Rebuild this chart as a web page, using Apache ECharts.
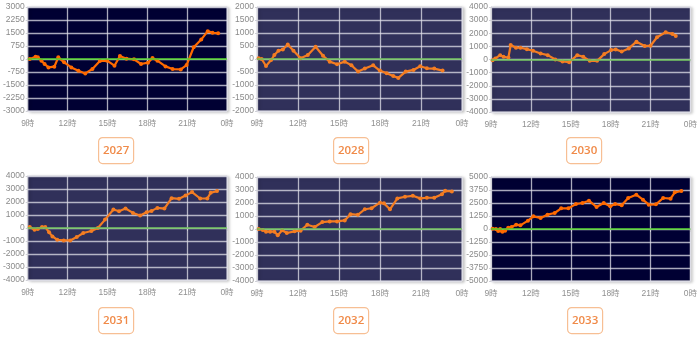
<!DOCTYPE html>
<html><head><meta charset="utf-8">
<script src="https://cdn.jsdelivr.net/npm/echarts@6/dist/echarts.min.js"></script>
<style>html,body{margin:0;padding:0;background:#fff}#c{width:700px;height:339px}</style>
</head><body><div id="c"></div>
<script>
// x tick labels (hours)
var xTicks = [9, 12, 15, 18, 21, 24];
var years = ['2027', '2028', '2030', '2031', '2032', '2033'];

// time (hour of day) and value for each year
var h2027 = [9.15, 9.59, 9.76, 10.03, 10.27, 10.56, 11.0, 11.30, 11.74, 12.28, 12.81, 13.33, 13.87, 14.43, 14.97, 15.53, 15.94, 16.43, 17.0, 17.53, 18.05, 18.39, 18.76, 19.37, 19.90, 20.52, 20.96, 21.49, 22.06, 22.55, 22.91, 23.33];
var v2027 = [0, 135, 97, -97, -290, -484, -445, 97, -193, -484, -677, -832, -580, -116, -97, -387, 174, 19, -19, -290, -213, 58, -97, -426, -580, -600, -348, 677, 1122, 1606, 1509, 1490];

var h2028 = [9.12, 9.34, 9.66, 10.03, 10.27, 10.57, 10.89, 11.25, 11.67, 12.19, 12.72, 13.29, 13.83, 14.32, 14.86, 15.42, 15.91, 16.40, 16.89, 17.50, 17.99, 18.49, 18.97, 19.34, 19.88, 20.45, 20.94, 21.43, 21.97, 22.58];
var v2028 = [25, 0, -268, -38, 153, 318, 369, 560, 318, 25, 153, 471, 127, -102, -204, -102, -242, -484, -369, -242, -446, -548, -650, -726, -484, -420, -280, -357, -369, -446];

var h2030 = [9.12, 9.32, 9.69, 9.94, 10.31, 10.48, 10.88, 11.22, 11.70, 12.16, 12.73, 13.27, 13.84, 14.38, 14.88, 15.49, 15.94, 16.43, 16.98, 17.52, 18.04, 18.38, 18.83, 19.37, 19.94, 20.56, 21.0, 21.49, 22.14, 22.65, 22.90];
var v2030 = [-51, 77, 333, 205, 154, 1102, 897, 897, 790, 666, 461, 333, 0, -154, -205, 333, 205, -102, -102, 410, 718, 769, 615, 846, 1358, 1025, 1051, 1692, 2076, 1948, 1794];

var h2031 = [9.15, 9.51, 9.76, 10.08, 10.32, 10.61, 10.86, 11.22, 11.71, 12.20, 12.69, 13.18, 13.79, 14.28, 14.82, 15.45, 15.87, 16.36, 16.92, 17.46, 17.95, 18.32, 18.76, 19.29, 19.83, 20.39, 20.88, 21.37, 21.98, 22.52, 22.77, 23.25];
var v2031 = [77, -129, -77, 77, 77, -335, -645, -903, -955, -955, -697, -387, -232, 0, 645, 1419, 1290, 1496, 1161, 955, 1213, 1316, 1548, 1496, 2296, 2245, 2503, 2761, 2270, 2270, 2709, 2838];

var h2032 = [9.12, 9.42, 9.66, 9.96, 10.27, 10.52, 10.84, 11.18, 11.75, 12.19, 12.68, 13.22, 13.78, 14.32, 14.86, 15.42, 15.84, 16.38, 16.89, 17.38, 18.0, 18.29, 18.73, 19.27, 19.83, 20.40, 20.94, 21.43, 21.97, 22.53, 22.77, 23.26];
var v2032 = [0, -76, -202, -202, -202, -481, -101, -304, -177, -127, 329, 152, 531, 582, 582, 658, 1139, 1088, 1518, 1594, 2024, 1973, 1518, 2353, 2479, 2555, 2353, 2404, 2404, 2682, 2935, 2884];

var h2033 = [9.12, 9.37, 9.54, 9.69, 9.86, 10.06, 10.30, 10.55, 10.89, 11.21, 11.78, 12.19, 12.73, 13.25, 13.79, 14.28, 14.82, 15.39, 15.88, 16.37, 16.94, 17.48, 17.97, 18.34, 18.83, 19.32, 19.93, 20.43, 20.87, 21.41, 21.95, 22.51, 22.83, 23.32];
var v2033 = [32, 0, -192, 0, -256, -160, 128, 192, 417, 353, 801, 1218, 1058, 1378, 1538, 1987, 1987, 2404, 2500, 2724, 2115, 2500, 2179, 2404, 2276, 2981, 3301, 2820, 2340, 2372, 2981, 2917, 3526, 3654];

var yMax = [3000, 2000, 4000, 4000, 4000, 5000];
var yStep = [750, 500, 1000, 1000, 1000, 1250];

var hours = [h2027, h2028, h2030, h2031, h2032, h2033];
var vals = [v2027, v2028, v2030, v2031, v2032, v2033];

// layout
var gl = [22, 257, 491, 22, 257, 491];
var gt = [7, 7, 7, 176, 177, 177];
var gw = [205, 205, 203, 205, 205, 203];
var gh = [104, 104, 105, 104, 104, 104];
var bgs = ['#000033', '#30305a', '#30305a', '#30305a', '#30305a', '#000033'];
var lineCols = ['#ff6a00', '#f47d22', '#f47d22', '#f47d22', '#f47d22', '#ff6a00'];
var zeroCols = ['#4fd12a', '#6cc15a', '#6cc15a', '#6cc15a', '#6cc15a', '#4fd12a'];
var boxX = [98, 333, 566, 98, 333, 567];
var boxY = [137, 137, 137, 307, 307, 307];

var font = "'Liberation Sans', 'Noto Sans CJK JP', sans-serif";
var grids = [], xAxes = [], yAxes = [], series = [], graphics = [];
for (var i = 0; i < 6; i++) {
  grids.push({left: gl[i], top: gt[i], width: gw[i], height: gh[i], show: true,
    backgroundColor: bgs[i], borderColor: '#d4d4dc', borderWidth: 1,
    shadowColor: 'rgba(0,0,0,0.25)', shadowBlur: 3, shadowOffsetX: 2, shadowOffsetY: 1});
  xAxes.push({type: 'value', gridIndex: i, min: 9, max: 24, interval: 3,
    axisLine: {show: true, lineStyle: {color: '#cfcfd6'}},
    axisTick: {show: true, length: 3, lineStyle: {color: '#cfcfd6'}},
    axisLabel: {fontSize: 8.5, color: '#909090', margin: 8, fontFamily: font,
      formatter: function (v) { return (v % 24) + '時'; }},
    splitLine: {show: true, lineStyle: {color: 'rgba(225,225,235,0.75)', width: 1.3}}});
  yAxes.push({type: 'value', gridIndex: i, min: -yMax[i], max: yMax[i], interval: yStep[i],
    axisLine: {show: true, lineStyle: {color: '#cfcfd6'}},
    axisTick: {show: true, length: 2, lineStyle: {color: '#cfcfd6'}},
    axisLabel: {fontSize: 8.5, color: '#8a8a8a', margin: 3, fontFamily: font,
      formatter: function (v) { return String(v); }},
    splitLine: {show: true, lineStyle: {color: 'rgba(225,225,235,0.75)', width: 1.3}}});
  var d = hours[i].map(function (h, k) { return [h, vals[i][k]]; });
  series.push({type: 'line', xAxisIndex: i, yAxisIndex: i, data: d,
    symbol: 'circle', symbolSize: 4, showSymbol: true,
    lineStyle: {color: lineCols[i], width: 2.2}, itemStyle: {color: lineCols[i]},
    animation: false,
    markLine: {silent: true, symbol: 'none', label: {show: false},
      lineStyle: {color: zeroCols[i], width: 1.5, type: 'solid'}, data: [{yAxis: 0}]},
    z: 3});
  graphics.push({type: 'group', left: boxX[i], top: boxY[i], children: [
    {type: 'rect', shape: {x: 0, y: 0, width: 35, height: 26, r: 4},
      style: {fill: '#fff', stroke: '#f7bf94', lineWidth: 1.2}},
    {type: 'text', x: 17.5, y: 13, style: {text: years[i], fill: '#f08a48',
      font: '600 11.5px "Open Sans", sans-serif', textAlign: 'center', textVerticalAlign: 'middle'}}
  ]});
}
var chart = echarts.init(document.getElementById('c'));
chart.setOption({animation: false, grid: grids, xAxis: xAxes, yAxis: yAxes, series: series, graphic: graphics});
</script></body></html>
